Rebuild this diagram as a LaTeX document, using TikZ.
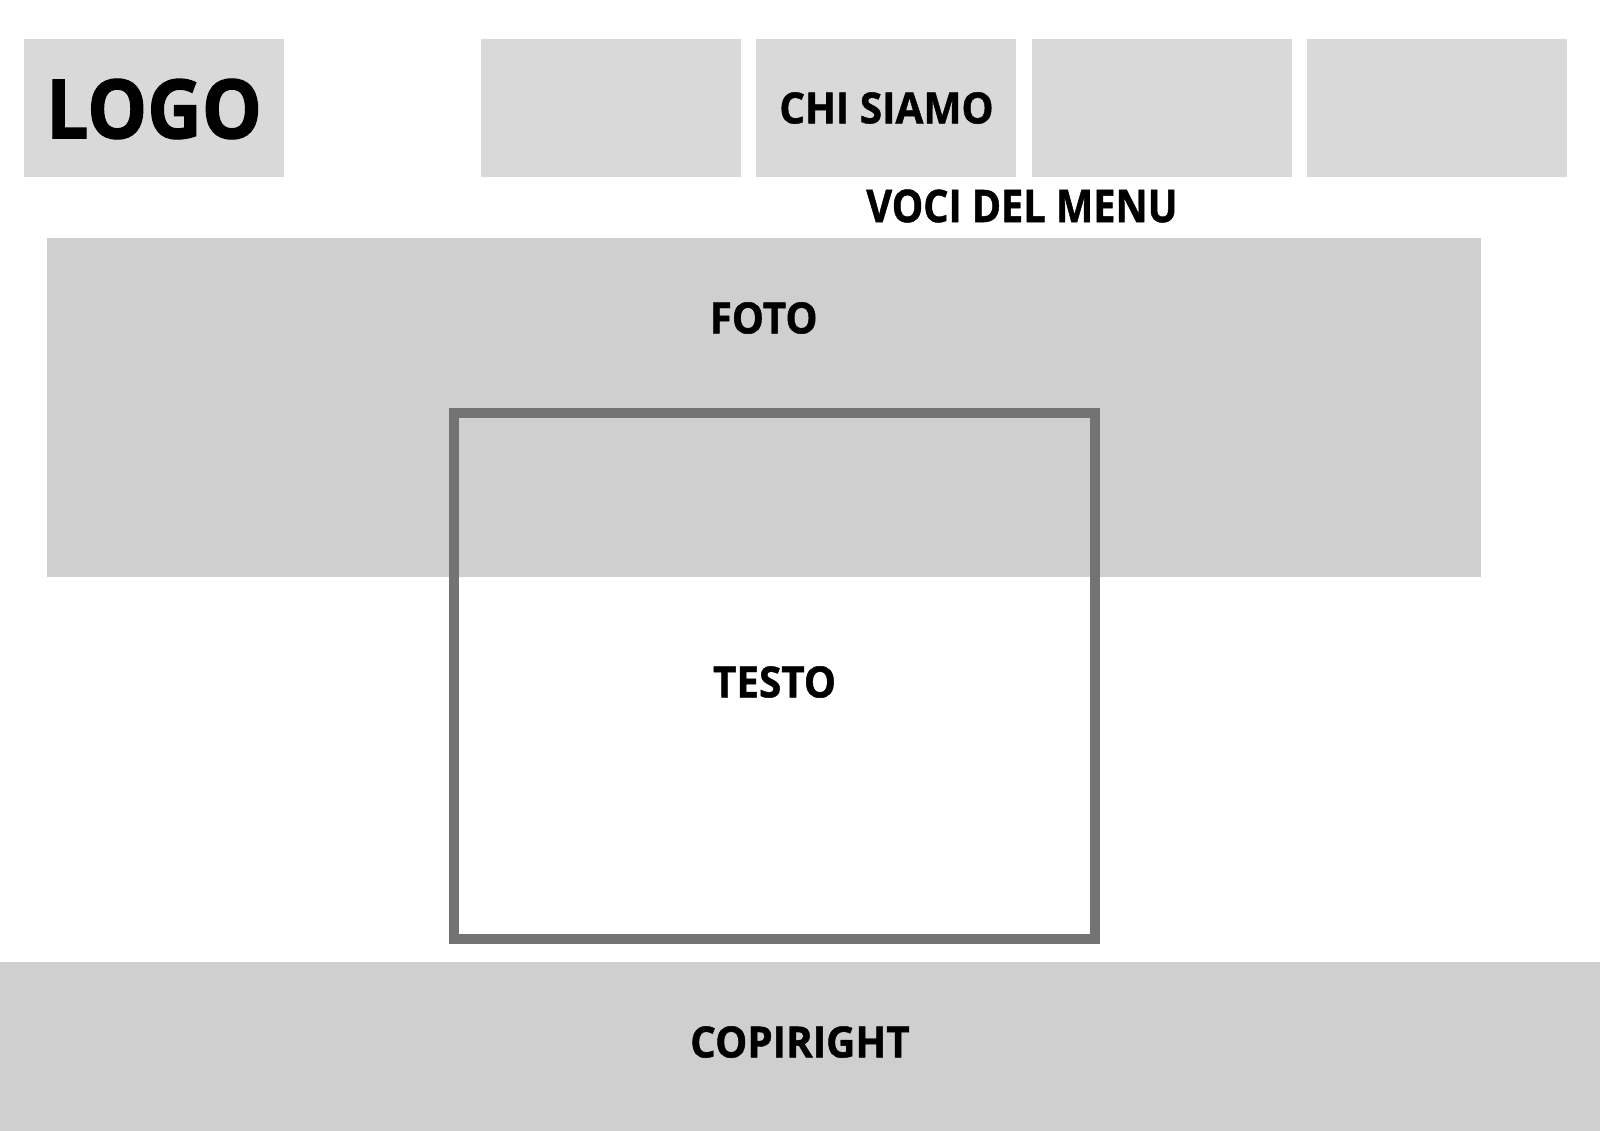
\documentclass[tikz,border=0pt]{standalone}
\usepackage{fontspec}
\setmainfont{Open Sans}
\newfontfamily\logofont{Open Sans}[FakeStretch=0.92, FakeBold=1.5]
\newfontfamily\lblfont{Open Sans}[FakeStretch=0.94, FakeBold=1]
\newfontfamily\vocifont{Open Sans}[FakeStretch=0.88, FakeBold=1]
\definecolor{menugray}{HTML}{D9D9D9}
\definecolor{fotogray}{HTML}{CFCFCF}
\definecolor{framegray}{HTML}{737373}
\begin{document}
\begin{tikzpicture}[x=1pt,y=-1pt,
  panel/.style={draw=none, inner sep=0pt, outer sep=0pt, anchor=north west},
  menubox/.style={panel, fill=menugray, minimum width=260pt, minimum height=138pt},
  lbl/.style={inner sep=0pt, font=\lblfont\bfseries\fontsize{43}{43}\selectfont, text=black}]
\useasboundingbox (0,0) rectangle (1600,1131);
\fill[white] (0,0) rectangle (1600,1131);
% header
\node[menubox] (logo) at (24,39) {};
\node[menubox] (m1) at (481,39) {};
\node[menubox] (m2) at (756,39) {};
\node[menubox] (m3) at (1032,39) {};
\node[menubox] (m4) at (1307,39) {};
\node[lbl, font=\logofont\bfseries\fontsize{82}{82}\selectfont] (logot) at (154,109) {LOGO};
\node[lbl] (chi) at (886.5,108) {CHI SIAMO};
\node[lbl, font=\vocifont\bfseries\fontsize{45}{45}\selectfont] (voci) at (1022,206) {VOCI DEL MENU};
% photo
\node[panel, fill=fotogray, minimum width=1434pt, minimum height=339pt] (foto) at (47,238) {};
\node[lbl] (fotot) at (763.6,318) {FOTO};
% text frame
\node[panel, draw=framegray, line width=9.5pt, minimum width=641pt, minimum height=526pt] (testo) at (454,413) {};
\node[lbl] (testot) at (774.5,682) {TESTO};
% footer
\node[panel, fill=fotogray, minimum width=1600pt, minimum height=169pt] (footer) at (0,962) {};
\node[lbl] (copy) at (800,1042) {COPIRIGHT};
\end{tikzpicture}
\end{document}
